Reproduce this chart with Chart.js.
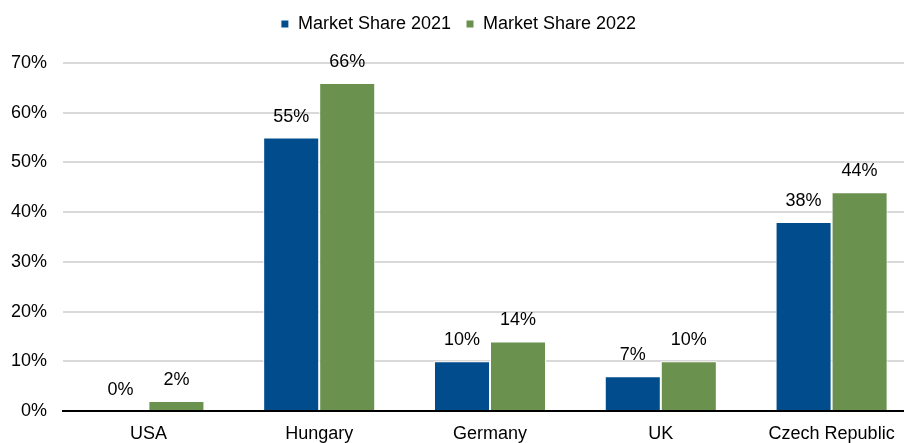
<!DOCTYPE html>
<html>
<head>
<meta charset="utf-8">
<script src="https://cdn.jsdelivr.net/npm/chart.js@4/dist/chart.umd.min.js"></script>
<style>
  html, body { margin: 0; padding: 0; background: #fff; overflow: hidden; }
  #wrap { width: 917px; height: 443px; }
</style>
</head>
<body>
<div id="wrap"><canvas id="shareChart" width="917" height="443"></canvas></div>
<script>
const countries = ["USA", "Hungary", "Germany", "UK", "Czech Republic"];
const share2021 = [0, 55, 10, 7, 38];
const share2022 = [2, 66, 14, 10, 44];
const yTicks = [0, 10, 20, 30, 40, 50, 60, 70];

const FONT = "'Liberation Sans', Arial, sans-serif";

// value labels above each bar
const barLabels = {
  id: "barLabels",
  afterDatasetsDraw(chart) {
    const ctx = chart.ctx;
    ctx.save();
    ctx.font = "18px " + FONT;
    ctx.fillStyle = "#000";
    ctx.textAlign = "center";
    ctx.textBaseline = "middle";
    chart.data.datasets.forEach((ds, i) => {
      chart.getDatasetMeta(i).data.forEach((bar, j) => {
        ctx.fillText(ds.data[j] + "%", bar.x, bar.y - 21);
      });
    });
    ctx.restore();
  },
};

// extra gap under the legend
const legendGap = {
  id: "legendGap",
  beforeLayout(chart) {
    const lg = chart.legend;
    if (lg && !lg._gapAdded) {
      const fit = lg.fit.bind(lg);
      lg.fit = function () {
        fit();
        this.height += 20;
      };
      lg._gapAdded = true;
    }
  },
};

const ctx = document.getElementById("shareChart").getContext("2d");
new Chart(ctx, {
  type: "bar",
  data: {
    labels: countries,
    datasets: [
      {
        label: "Market Share 2021",
        data: share2021,
        backgroundColor: "#004c8c",
        borderColor: "#ffffff",
        borderWidth: 1,
      },
      {
        label: "Market Share 2022",
        data: share2022,
        backgroundColor: "#6a914e",
        borderColor: "#ffffff",
        borderWidth: 1,
      },
    ],
  },
  options: {
    responsive: false,
    animation: false,
    datasets: {
      bar: { barPercentage: 1, categoryPercentage: 0.656 },
    },
    layout: { padding: { top: 0, left: 0, right: 0, bottom: 0 } },
    plugins: {
      tooltip: { enabled: false },
      legend: {
        position: "top",
        labels: {
          boxWidth: 8,
          boxHeight: 8,
          padding: 15,
          color: "#000",
          font: { family: FONT, size: 18 },
        },
      },
    },
    scales: {
      x: {
        grid: { display: false, drawTicks: false },
        border: { display: true, color: "#000", width: 2 },
        ticks: { color: "#000", padding: 12, font: { family: FONT, size: 18 } },
        afterFit(scale) { scale.height = 32; },
      },
      y: {
        min: 0,
        max: 70,
        afterBuildTicks(scale) { scale.ticks = yTicks.map((v) => ({ value: v })); },
        grid: {
          drawTicks: false,
          lineWidth: 2,
          color: (c) => (c.tick && c.tick.value === 0 ? "rgba(0,0,0,0)" : "#d9d9d9"),
        },
        border: { display: false },
        ticks: {
          color: "#000",
          padding: 16,
          font: { family: FONT, size: 18 },
          callback: (v) => v + "%",
        },
        afterFit(scale) { scale.width = 63; },
      },
    },
  },
  plugins: [barLabels, legendGap],
});
</script>
</body>
</html>
